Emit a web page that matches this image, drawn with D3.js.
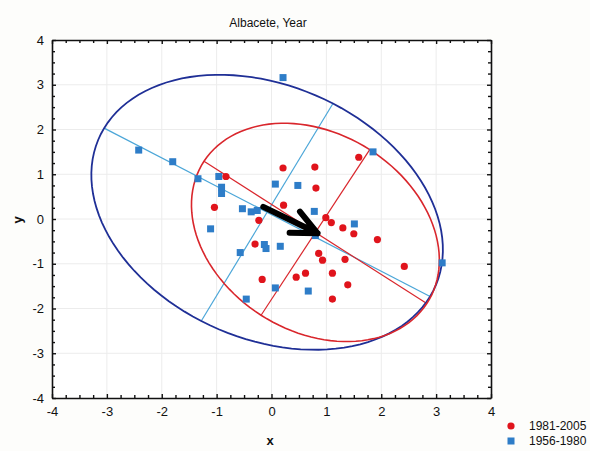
<!DOCTYPE html>
<html>
<head>
<meta charset="utf-8">
<script src="https://cdn.jsdelivr.net/npm/d3@7"></script>
<style>
  body { margin: 0; background: #fdfdfb; }
  svg { font-family: "Liberation Sans", Arial, sans-serif; }
</style>
</head>
<body>
<svg id="chart" width="590" height="451"></svg>
<script>
// series 1981-2005 (red circles)
let redX = [-0.83,-1.04,-0.23,0.21,0.22,0.79,0.81,1.59,0.99,1.09,1.30,1.50,1.93,2.42,-0.30,-0.17,0.86,0.93,1.34,0.45,0.62,1.11,1.39,1.11];
let redY = [0.95,0.26,-0.03,1.14,0.31,1.16,0.69,1.38,0.03,-0.08,-0.20,-0.33,-0.46,-1.06,-0.56,-1.35,-0.77,-0.92,-0.90,-1.30,-1.21,-1.21,-1.47,-1.79];
// series 1956-1980 (blue squares)
let blueX = [-2.42,-1.80,-1.34,-0.96,-0.91,-0.91,-0.53,-0.37,-0.26,-1.11,0.21,0.07,0.48,0.78,1.85,1.51,3.11,-0.13,-0.10,0.16,0.07,0.67,-0.57,-0.46,0.80];
let blueY = [1.54,1.28,0.90,0.95,0.71,0.57,0.23,0.16,0.19,-0.22,3.16,0.78,0.75,0.17,1.50,-0.11,-0.98,-0.57,-0.66,-0.61,-1.54,-1.61,-0.75,-1.79,-0.37];

// ellipses: center, half major axis, half minor axis (data units)
let blueCenter = [-0.08, 0.15], blueMajor = [2.97, -1.88], blueMinor = [1.20, 2.43];
let redCenter = [0.80, -0.30], redMajor = [2.03, -1.59], redMinor = [0.99, 1.85];
// arrow between the two groups
let arrowFrom = [-0.15, 0.27], arrowTo = [0.84, -0.32];

let ticks = [-4,-3,-2,-1,0,1,2,3,4];
let seriesNames = ['1981-2005', '1956-1980'];

let svg = d3.select('#chart');
let pLeft = 52, pRight = 491, pTop = 40, pBottom = 398;

let x = d3.scaleLinear().domain([-4,4]).range([pLeft,pRight]);
let y = d3.scaleLinear().domain([-4,4]).range([pBottom,pTop]);

svg.append('rect').attr('x',pLeft).attr('y',pTop).attr('width',pRight-pLeft).attr('height',pBottom-pTop).attr('fill','#fff');

// grid
svg.append('g').selectAll('line').data(ticks.slice(1,-1)).enter().append('line')
  .attr('x1',d=>x(d)).attr('x2',d=>x(d)).attr('y1',pTop).attr('y2',pBottom)
  .attr('stroke','#ececec').attr('stroke-width',1);
svg.append('g').selectAll('line').data(ticks.slice(1,-1)).enter().append('line')
  .attr('y1',d=>y(d)).attr('y2',d=>y(d)).attr('x1',pLeft).attr('x2',pRight)
  .attr('stroke','#ececec').attr('stroke-width',1);

// axes with inward ticks
let minor = d3.range(-4, 4.001, 0.25);
let fmt = d => Number.isInteger(d) ? String(d) : '';
let tl = d => Number.isInteger(d) ? -4 : -3;

let xb = svg.append('g').attr('transform',`translate(0,${pBottom})`)
  .call(d3.axisBottom(x).tickValues(minor).tickFormat(fmt).tickSizeInner(0).tickSizeOuter(0).tickPadding(9));
xb.selectAll('.tick line').attr('y2',tl);
let xt = svg.append('g').attr('transform',`translate(0,${pTop})`)
  .call(d3.axisTop(x).tickValues(minor).tickFormat('').tickSizeOuter(0));
xt.selectAll('.tick line').attr('y2',d=>-tl(d));
let yl = svg.append('g').attr('transform',`translate(${pLeft},0)`)
  .call(d3.axisLeft(y).tickValues(minor).tickFormat(fmt).tickSizeInner(0).tickSizeOuter(0).tickPadding(8));
yl.selectAll('.tick line').attr('x2',d=>-tl(d));
let yr = svg.append('g').attr('transform',`translate(${pRight},0)`)
  .call(d3.axisRight(y).tickValues(minor).tickFormat('').tickSizeOuter(0));
yr.selectAll('.tick line').attr('x2',tl);

svg.selectAll('.domain').attr('stroke','#111').attr('stroke-width',1.6);
svg.selectAll('.tick line').attr('stroke','#111').attr('stroke-width',1.4);
svg.selectAll('.tick text').attr('font-size',13).attr('fill','#111');

// ellipse helper via conjugate half axes
function ellipsePts(c, a, b) {
  return d3.range(0, 361, 3).map(t => {
    let r = t * Math.PI / 180;
    return [c[0] + a[0]*Math.cos(r) + b[0]*Math.sin(r), c[1] + a[1]*Math.cos(r) + b[1]*Math.sin(r)];
  });
}
let line = d3.line().x(d=>x(d[0])).y(d=>y(d[1]));
function axisLines(c, a, b, color) {
  [a, b].forEach(p => {
    svg.append('path').attr('d', line([[c[0]-p[0], c[1]-p[1]], [c[0]+p[0], c[1]+p[1]]]))
      .attr('stroke',color).attr('stroke-width',1.2).attr('fill','none');
  });
}

axisLines(blueCenter, blueMajor, blueMinor, '#4ba6d8');
axisLines(redCenter, redMajor, redMinor, '#d9262c');

svg.append('path').attr('d', line(ellipsePts(blueCenter, blueMajor, blueMinor)))
  .attr('fill','none').attr('stroke','#1f2f96').attr('stroke-width',1.8);
svg.append('path').attr('d', line(ellipsePts(redCenter, redMajor, redMinor)))
  .attr('fill','none').attr('stroke','#d9262c').attr('stroke-width',1.6);

// points
svg.append('g').selectAll('rect').data(blueX).enter().append('rect')
  .attr('x',(d,i)=>x(d)-3.5).attr('y',(d,i)=>y(blueY[i])-3.5)
  .attr('width',7).attr('height',7).attr('fill','#2e7dc8');
svg.append('g').selectAll('circle').data(redX).enter().append('circle')
  .attr('cx',(d,i)=>x(d)).attr('cy',(d,i)=>y(redY[i])).attr('r',3.6).attr('fill','#e0141c');

// arrow
let x0 = x(arrowFrom[0]), y0 = y(arrowFrom[1]), x1 = x(arrowTo[0]), y1 = y(arrowTo[1]);
let ang = Math.atan2(y1-y0, x1-x0), hl = 28, spread = 25 * Math.PI/180;
let arrowPath = `M${x0},${y0}L${x1},${y1}` +
  `M${x1 - hl*Math.cos(ang-spread)},${y1 - hl*Math.sin(ang-spread)}L${x1},${y1}` +
  `L${x1 - hl*Math.cos(ang+spread)},${y1 - hl*Math.sin(ang+spread)}`;
svg.append('path').attr('d',arrowPath).attr('fill','none').attr('stroke','#000')
  .attr('stroke-width',6).attr('stroke-linecap','round').attr('stroke-linejoin','round');

// labels
svg.append('text').attr('x',268).attr('y',27).attr('text-anchor','middle').attr('font-size',12).attr('fill','#111').text('Albacete, Year');
svg.append('text').attr('x',270).attr('y',445).attr('text-anchor','middle').attr('font-size',13).attr('font-weight','bold').attr('fill','#111').text('x');
svg.append('text').attr('transform','translate(22,220) rotate(-90)').attr('text-anchor','middle').attr('font-size',13).attr('font-weight','bold').attr('fill','#111').text('y');

// legend
let lg = svg.append('g');
lg.append('circle').attr('cx',511).attr('cy',426).attr('r',3.6).attr('fill','#e0141c');
lg.append('rect').attr('x',507.5).attr('y',437.5).attr('width',7).attr('height',7).attr('fill','#2e7dc8');
lg.selectAll('text').data(seriesNames).enter().append('text')
  .attr('x',529).attr('y',(d,i)=>430+i*15).attr('font-size',12).attr('fill','#111').text(d=>d);
</script>
</body>
</html>
